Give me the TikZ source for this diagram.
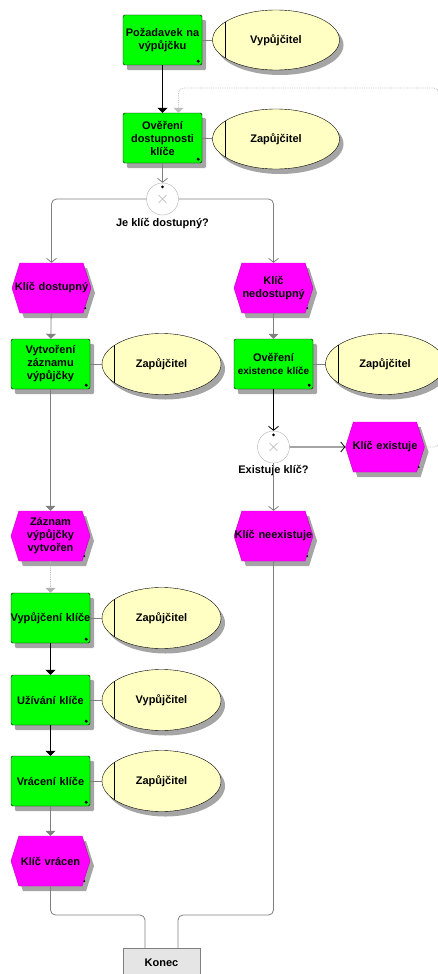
\documentclass[tikz,border=0pt]{standalone}
\usepackage{fontspec}
\setmainfont{Liberation Sans}
\usetikzlibrary{arrows.meta,shapes.geometric,shapes.symbols}

\definecolor{fngreen}{RGB}{0,255,0}
\definecolor{evmag}{RGB}{255,0,255}
\definecolor{orgyel}{RGB}{255,255,196}
\definecolor{lnkgray}{RGB}{128,128,128}
\definecolor{shgray}{RGB}{165,165,165}

\pgfdeclarelayer{bg}
\pgfsetlayers{bg,main}

\begin{document}
\begin{tikzpicture}
  [x=1pt,y=-1pt,
   every node/.style={font=\bfseries\fontsize{11}{13}\selectfont},
   func/.style={draw,rectangle,rounded corners=1.5pt,fill=fngreen,minimum width=79pt,minimum height=50pt,
     text width=77pt,inner sep=1pt,align=center},
   evt/.style={signal,signal to=west and east,signal pointer angle=145,draw=evmag!75!black,fill=evmag,
     minimum width=79pt,minimum height=50pt,inner sep=0.5pt,text width=62pt,align=center},
   role/.style={ellipse,draw,fill=orgyel,minimum width=119pt,minimum height=61pt,inner sep=0pt},
   xor/.style={circle,draw=gray!60,fill=white,minimum size=32pt,inner sep=0pt},
   endbox/.style={rectangle,draw=gray,fill=gray!20,minimum width=77pt,minimum height=30pt},
   blk/.style={draw=black,line width=0.8pt,-{Triangle[width=10pt,length=5pt]}},
   gry/.style={draw=lnkgray,line width=0.8pt,-{Triangle[width=10pt,length=5pt]}},
   opn/.style={line width=0.8pt,-{Straight Barb[width=10pt,length=4pt]}},
   asc/.style={draw=lnkgray,line width=0.8pt}]

  \useasboundingbox (0,0) rectangle (438,974);

  \node[func] (f1) at (162.5,40) {Požadavek na\\výpůjčku};
  \node[role,minimum width=127pt,minimum height=60pt] (r1) at (276,40) {Vypůjčitel};
  \node[func] (f2) at (162.5,138) {Ověření\\dostupnosti\\klíče};
  \node[role,minimum width=127pt,minimum height=60pt] (r2) at (276,139) {Zapůjčitel};
  \node[xor] (x1) at (162.5,199) {};
  \node (q1) at (162.5,224) {Je klíč dostupný?};
  \node[evt] (e1) at (51.5,288) {\makebox[62pt]{Klíč dostupný}};
  \node[evt] (e2) at (273.5,288) {Klíč\\nedostupný};
  \node[func] (f3) at (50.5,364) {Vytvoření\\záznamu\\výpůjčky};
  \node[role] (r3) at (161.5,364) {Zapůjčitel};
  \node[func] (f4) at (273.5,364) {Ověření\\{\fontsize{10}{12}\selectfont existence klíče}};
  \node[role] (r4) at (385,364) {Zapůjčitel};
  \node[xor] (x2) at (273.5,447) {};
  \node (q2) at (273.5,471) {Existuje klíč?};
  \node[evt] (e3) at (385,447) {\makebox[62pt]{Klíč existuje}};
  \node[evt] (e4) at (50.5,536) {Záznam\\výpůjčky\\vytvořen};
  \node[evt] (e5) at (273.5,536) {\makebox[62pt]{Klíč neexistuje}};
  \node[func] (f5) at (50.5,618) {\makebox[77pt]{Vypůjčení klíče}};
  \node[role] (r5) at (161.5,618) {Zapůjčitel};
  \node[func] (f6) at (50.5,700) {Užívání klíče};
  \node[role] (r6) at (161.5,700) {Vypůjčitel};
  \node[func] (f7) at (50.5,781) {Vrácení klíče};
  \node[role] (r7) at (161.5,781) {Zapůjčitel};
  \node[evt] (e6) at (50.5,861) {Klíč vrácen};
  \node[endbox] (konec) at (161.5,963) {Konec};

  % shadows
  \begin{pgfonlayer}{bg}
    \foreach \n in {f1,f2,f3,f4,f5,f6,f7}
      \fill[shgray,rounded corners=1.5pt] ([shift={(4,5)}]\n.south west) rectangle ([shift={(4,5)}]\n.north east);
    \foreach \n/\rx/\ry in {r1/63.5/30,r2/63.5/30,r3/59.5/30.5,r4/59.5/30.5,r5/59.5/30.5,r6/59.5/30.5,r7/59.5/30.5}
      \fill[shgray] ([shift={(4,5)}]\n.center) ellipse [x radius=\rx, y radius=\ry];
    \foreach \n in {e1,e2,e3,e4,e5,e6}
      \fill[shgray] ([shift={(4,5)}]\n.center) ++(-39.5,0) -- ++(7.9,-25) -- ++(63.2,0)
        -- ++(7.9,25) -- ++(-7.9,25) -- ++(-63.2,0) -- cycle;
  \end{pgfonlayer}

  % corner dots
  \foreach \n in {f1,f2,f3,f4,f5,f6,f7}
    \fill ([shift={(-4,-4)}]\n.south east) circle (1.7pt);
  \foreach \n in {e1,e2,e3,e4,e5,e6}
    \fill ([shift={(2,-5)}]\n.south east) circle (1pt);
  % role bars
  \foreach \n in {r3,r4,r5,r6,r7}
    \draw[line width=0.8pt] ([shift={(13,19)}]\n.west) -- ([shift={(13,-19)}]\n.west);
  \foreach \n in {r1,r2}
    \draw[line width=0.8pt] ([shift={(13,18)}]\n.west) -- ([shift={(13,-18)}]\n.west);
  % gateway marks
  \foreach \n in {x1,x2} {
    \draw[gray!60] ([shift={(-4,-4)}]\n.center) -- ([shift={(4,4)}]\n.center);
    \draw[gray!60] ([shift={(-4,4)}]\n.center) -- ([shift={(4,-4)}]\n.center);
    \fill ([shift={(0,4)}]\n.north) circle (1.5pt);
  }

  \coordinate (back) at (439,88);
  \coordinate (mL) at (145,915);
  \coordinate (mR) at (178,915);

  \draw[asc] (f1) -- (r1);
  \draw[asc] (f2) -- (r2);
  \draw[asc] (f3) -- (r3);
  \draw[asc] (f4) -- (r4);
  \draw[asc] (f5) -- (r5);
  \draw[asc] (f6) -- (r6);
  \draw[asc] (f7) -- (r7);

  \draw[blk] (f1) -- (f2);
  \draw[gry,draw=gray!50,densely dotted,rounded corners=5pt] (e3.east) -| (back) -| ([xshift=16pt]f2.north);
  \draw[opn,lnkgray] (f2) -- (x1);
  \draw[opn,lnkgray,rounded corners=5pt] (x1.west) -| (e1.north);
  \draw[opn,lnkgray,rounded corners=5pt] (x1.east) -| (e2.north);
  \draw[gry] (e1) -- (f3);
  \draw[gry] (e2) -- (f4);
  \draw[opn] (f4) -- (x2);
  \draw[opn] (x2) -- (e3);
  \draw[opn,lnkgray] (x2) -- (e5);
  \draw[gry] (f3) -- (e4);
  \draw[gry,draw=gray!60,densely dotted] (e4) -- (f5);
  \draw[blk] (f5) -- (f6);
  \draw[blk] (f6) -- (f7);
  \draw[gry] (f7) -- (e6);
  \draw[asc,rounded corners=5pt] (e6.south) |- (mL) -- (mL |- konec.north);
  \draw[asc,rounded corners=5pt] (e5.south) |- (mR) -- (mR |- konec.north);

\end{tikzpicture}
\end{document}
